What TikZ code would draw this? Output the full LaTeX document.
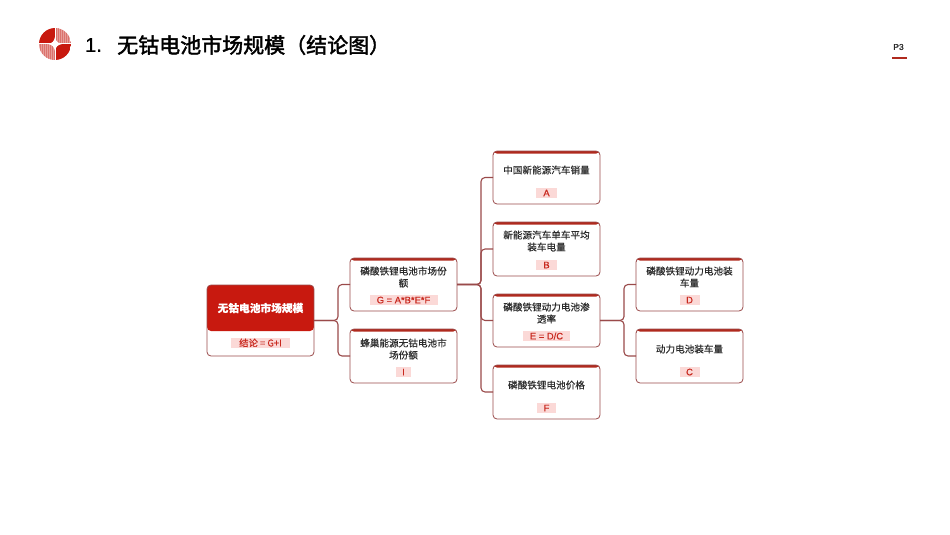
\documentclass[tikz,border=0pt]{standalone}
\usepackage{fontspec}
\setmainfont{Noto Sans CJK SC}
\newfontfamily\latinf{Liberation Sans}
\newfontfamily\latinbf[FakeBold=0.5]{Liberation Sans}
\newfontfamily\cardf[FakeBold=0.3]{Noto Sans CJK SC}
\newfontfamily\tagf[FakeBold=0.4]{Noto Sans CJK SC}
\newfontfamily\titlef[FakeBold=2.0]{Noto Sans CJK SC}
\definecolor{mainred}{HTML}{C8190F}
\definecolor{edge}{HTML}{9A4A4A}
\definecolor{topred}{HTML}{B02A1E}
\definecolor{tagbg}{HTML}{FBD9D7}
\definecolor{tagfg}{HTML}{C8281E}
\definecolor{txt}{HTML}{2B2B2B}
\tikzset{
  cardbox/.style={draw=edge,line width=0.8pt,rounded corners=4pt,fill=white,minimum width=107pt,minimum height=#1,inner sep=0pt,outer sep=0pt,
    path picture={\fill[topred] ([yshift=-2.6pt]path picture bounding box.north west) rectangle (path picture bounding box.north east);}},
  rootbox/.style={draw=edge,line width=0.8pt,rounded corners=4pt,fill=white,minimum width=107pt,minimum height=71pt,inner sep=0pt,outer sep=0pt,
    path picture={\fill[mainred] ([yshift=-46pt]path picture bounding box.north west) rectangle (path picture bounding box.north east);}},
  cardtext/.style={font=\cardf\fontsize{9.6pt}{12pt}\selectfont,text=txt,align=center,inner sep=0pt},
  tag/.style={fill=tagbg,text=tagfg,font=\latinbf\fontsize{9.4pt}{10pt}\selectfont,inner sep=0pt,minimum height=10pt,minimum width=#1,text depth=0pt},
  link/.style={draw=edge,line width=1.1pt,rounded corners=4pt}
}
\begin{document}
\begin{tikzpicture}[x=1pt,y=-1pt]
\useasboundingbox (0,0) rectangle (950,535);
\fill[white] (0,0) rectangle (950,535);

% logo
\begin{scope}
\clip (55,44) circle (16);
\fill[mainred] (39,28) rectangle (55,44);
\fill[mainred] (55,44) rectangle (71,60);
\fill[tagfg!45] (55,28) rectangle (71,44);
\fill[tagfg!45] (39,44) rectangle (55,60);
\foreach \i in {0,2,...,14}{
  \draw[tagfg!65,line width=0.5pt] (56+\i,28) -- (56+\i,44);
  \draw[tagfg!65,line width=0.5pt] (40+\i,44) -- (40+\i,60);
}
\draw[white,line width=1pt] (39,44) -- (71,44) (55,28) -- (55,60);
\fill[white] (55,37) .. controls (56,41.5) and (57.5,43) .. (62,44) .. controls (57.5,45) and (56,46.5) .. (55,51) .. controls (54,46.5) and (52.5,45) .. (48,44) .. controls (52.5,43) and (54,41.5) .. (55,37) -- cycle;
\end{scope}

% title
\node[anchor=west,inner sep=0pt,font=\latinbf\fontsize{20pt}{20pt}\selectfont,text=black] (num) at (85,45) {1.};
\node[anchor=west,inner sep=0pt,font=\titlef\fontsize{21pt}{21pt}\selectfont,text=black] (title) at (117,45) {无钴电池市场规模（结论图）};
\node[inner sep=0pt,font=\latinbf\fontsize{8.5pt}{8.5pt}\selectfont,text=txt] (page) at (898.5,47) {P3};
\fill[topred] (892,57) rectangle (907,59);

% cards
\node[rootbox,anchor=north west] (root) at (207,285) {};
\node[cardbox=53pt,anchor=north west] (G) at (350,258) {};
\node[cardbox=54pt,anchor=north west] (I) at (350,329) {};
\node[cardbox=53pt,anchor=north west] (A) at (493,151) {};
\node[cardbox=54pt,anchor=north west] (B) at (493,222) {};
\node[cardbox=53pt,anchor=north west] (E) at (493,294) {};
\node[cardbox=54pt,anchor=north west] (F) at (493,365) {};
\node[cardbox=53pt,anchor=north west] (D) at (636,258) {};
\node[cardbox=54pt,anchor=north west] (C) at (636,329) {};

% connectors
\draw[link] (root.east) -- ++(24,0) |- (G.west);
\draw[link] (root.east) -- ++(24,0) |- (I.west);
\draw[link] (G.east) -- ++(24,0) |- (A.west);
\draw[link] (G.east) -- ++(24,0) |- (B.west);
\draw[link] (G.east) -- ++(24,0) |- (E.west);
\draw[link] (G.east) -- ++(24,0) |- (F.west);
\draw[link] (E.east) -- ++(24,0) |- (D.west);
\draw[link] (E.east) -- ++(24,0) |- (C.west);

% texts
\node[inner sep=0pt,text=white,font=\cardf\fontsize{10.7pt}{12pt}\selectfont] (rootT) at (260.5,308) {\bfseries 无钴电池市场规模};
\node[tag=59pt,font=\tagf\fontsize{9.4pt}{10pt}\selectfont] (rootG) at (260.5,342.5) {结论 = G+I};

\node[cardtext] (GT) at (403.5,277) {磷酸铁锂电池市场份\\额};
\node[tag=68pt] (Gt) at (403.5,300) {G = A*B*E*F};
\node[cardtext] (IT) at (403.5,349) {蜂巢能源无钴电池市\\场份额};
\node[tag=15pt] (It) at (403.5,372) {I};
\node[cardtext] (AT) at (546.5,170) {中国新能源汽车销量};
\node[tag=21pt] (At) at (546.5,193) {A};
\node[cardtext] (BT) at (546.5,241) {新能源汽车单车平均\\装车电量};
\node[tag=21pt] (Bt) at (546.5,265) {B};
\node[cardtext] (ET) at (546.5,313) {磷酸铁锂动力电池渗\\透率};
\node[tag=47pt] (Et) at (546.5,336) {E = D/C};
\node[cardtext] (FT) at (546.5,385) {磷酸铁锂电池价格};
\node[tag=19pt] (Ft) at (546.5,408) {F};
\node[cardtext] (DT) at (689.5,277) {磷酸铁锂动力电池装\\车量};
\node[tag=20pt] (Dt) at (689.5,300) {D};
\node[cardtext] (CT) at (689.5,349) {动力电池装车量};
\node[tag=20pt] (Ct) at (689.5,372) {C};
\end{tikzpicture}
\end{document}
